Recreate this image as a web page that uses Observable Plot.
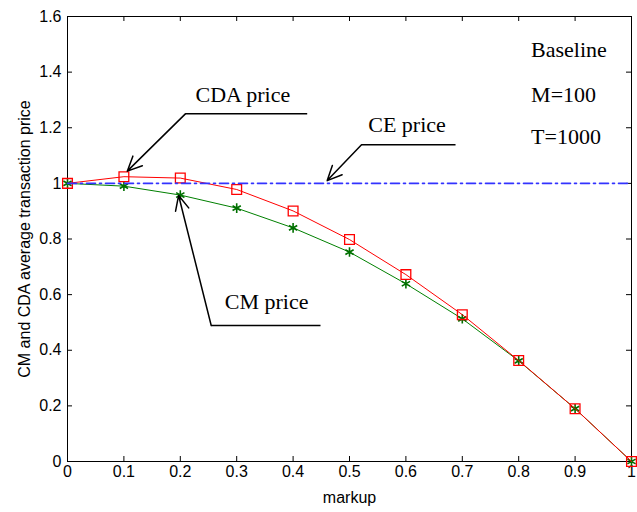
<!DOCTYPE html>
<html><head><meta charset="utf-8">
<script src="https://cdn.jsdelivr.net/npm/d3@7"></script>
<script src="https://cdn.jsdelivr.net/npm/@observablehq/plot@0.6"></script>
<style>body{margin:0;background:#fff}</style>
</head><body><div id="chart"></div>
<script>
const markup   = [0, 0.1, 0.2, 0.3, 0.4, 0.5, 0.6, 0.7, 0.8, 0.9, 1.0];
const cdaPrice = [1.0, 1.024, 1.019, 0.978, 0.901, 0.798, 0.672, 0.528, 0.363, 0.19, 0.0];
const cmPrice  = [1.0, 0.99, 0.958, 0.911, 0.84, 0.753, 0.639, 0.513, 0.362, 0.19, 0.0];
const cePrice  = [1, 1, 1, 1, 1, 1, 1, 1, 1, 1, 1];
const xTicks = [0, 0.1, 0.2, 0.3, 0.4, 0.5, 0.6, 0.7, 0.8, 0.9, 1];
const yTicks = [0, 0.2, 0.4, 0.6, 0.8, 1, 1.2, 1.4, 1.6];
const xLabel = "markup";
const yLabel = "CM and CDA average transaction price";
// annotation callouts (data coordinates): text position, elbow, end of leader, arrow tip
const calloutText  = ["CDA price", "CE price", "CM price"];
const calloutTextX = [0.311, 0.602, 0.353];
const calloutTextY = [1.292, 1.184, 0.547];
const calloutTipX  = [0.106, 0.4605, 0.197];
const calloutTipY  = [1.044, 1.010, 0.9565];
const calloutElbowX = [0.209, 0.5213, 0.2548];
const calloutElbowY = [1.250, 1.139, 0.489];
const calloutEndX  = [0.425, 0.688, 0.4486];
const calloutEndY  = [1.250, 1.139, 0.489];
const infoText = ["Baseline", "M=100", "T=1000"];
const infoX = [0.822, 0.822, 0.822];
const infoY = [1.454, 1.292, 1.142];

const W = 637, H = 512, mL = 67, mR = 6, mT = 16, mB = 51;
const iW = W - mL - mR, iH = H - mT - mB;

const cda = markup.map((x, i) => ({x, y: cdaPrice[i]}));
const cm  = markup.map((x, i) => ({x, y: cmPrice[i]}));
const ce  = markup.map((x, i) => ({x, y: cePrice[i]}));
const callouts = calloutText.map((t, i) => ({t, tx: calloutTextX[i], ty: calloutTextY[i],
  x0: calloutTipX[i], y0: calloutTipY[i], x1: calloutElbowX[i], y1: calloutElbowY[i],
  x2: calloutEndX[i], y2: calloutEndY[i]}));
const info = infoText.map((t, i) => ({t, x: infoX[i], y: infoY[i]}));
const serif = "'Liberation Serif', 'Times New Roman', serif";

const chart = Plot.plot({
  width: W, height: H,
  marginLeft: mL, marginRight: mR, marginTop: mT, marginBottom: mB,
  style: {fontFamily: "'Liberation Sans', Arial, sans-serif", fontSize: "16px", color: "#000", background: "#fff", overflow: "visible"},
  x: {domain: [0, 1]},
  y: {domain: [0, 1.6]},
  marks: [
    Plot.frame({stroke: "#000", strokeWidth: 1}),
    // inward ticks
    Plot.ruleY(yTicks, {y: d => d, insetRight: iW - 5, stroke: "#000"}),
    Plot.ruleY(yTicks, {y: d => d, insetLeft: iW - 5, stroke: "#000"}),
    Plot.ruleX(xTicks, {x: d => d, insetTop: iH - 5, stroke: "#000"}),
    Plot.ruleX(xTicks, {x: d => d, insetBottom: iH - 5, stroke: "#000"}),
    Plot.axisY({ticks: yTicks, tickSize: 0, tickPadding: 6, tickFormat: d => String(d), label: null, fontSize: 16}),
    Plot.axisX({ticks: xTicks, tickSize: 0, tickPadding: 4, tickFormat: d => String(d), label: null, fontSize: 16}),
    Plot.text([xLabel], {text: d => d, frameAnchor: "bottom", dy: 41, lineAnchor: "bottom", textAnchor: "middle", fontSize: 16}),
    Plot.text([yLabel], {text: d => d, frameAnchor: "left", dx: -43, rotate: -90, lineAnchor: "middle", textAnchor: "middle", fontSize: 16}),
    // series
    Plot.line(cm, {x: "x", y: "y", stroke: "#008000", strokeWidth: 1}),
    Plot.dot(cm, {x: "x", y: "y", symbol: "asterisk", r: 4.5, stroke: "#007000", strokeWidth: 1.6}),
    Plot.line(cda, {x: "x", y: "y", stroke: "#ff0000", strokeWidth: 1}),
    Plot.dot(cda, {x: "x", y: "y", symbol: "square", r: 5.5, stroke: "#ff0000", strokeWidth: 1.3, fill: "none"}),
    Plot.line(ce, {x: "x", y: "y", stroke: "#3333ff", strokeWidth: 1.6, strokeDasharray: "9,4,2,4"}),
    // callouts
    Plot.link(callouts, {x1: "x2", y1: "y2", x2: "x1", y2: "y1", stroke: "#000", strokeWidth: 1.5}),
    Plot.arrow(callouts, {x1: "x1", y1: "y1", x2: "x0", y2: "y0", stroke: "#000", strokeWidth: 1.5, headLength: 16, headAngle: 50}),
    Plot.text(callouts, {x: "tx", y: "ty", text: "t", lineAnchor: "bottom", fontFamily: serif, fontSize: 22, fill: "#000"}),
    Plot.text(info, {x: "x", y: "y", text: "t", textAnchor: "start", lineAnchor: "bottom", fontFamily: serif, fontSize: 22, fill: "#000"})
  ]
});
document.getElementById("chart").appendChild(chart);
</script>
</body></html>
